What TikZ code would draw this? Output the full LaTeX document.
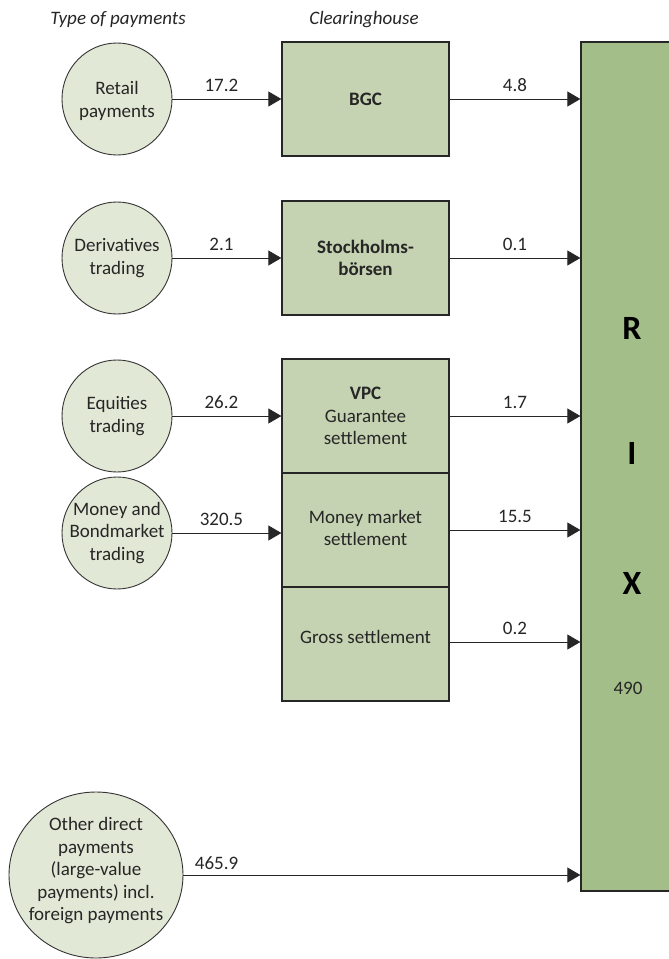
\documentclass[tikz,border=0pt]{standalone}
\usepackage{fontspec}
\setmainfont{Carlito}
\usetikzlibrary{shapes.geometric,arrows.meta}
\definecolor{circfill}{RGB}{226,232,214}
\definecolor{boxfill}{RGB}{197,211,178}
\definecolor{rixfill}{RGB}{163,190,136}
\begin{document}
\begin{tikzpicture}[x=1pt,y=-1pt,
  every node/.style={font=\fontsize{19}{22.5}\selectfont, inner sep=0pt, align=center, text=black!85},
  pay/.style={ellipse, draw=black!80, line width=0.9pt, fill=circfill, minimum width=110pt, minimum height=112pt},
  house/.style={rectangle, draw=black!85, line width=1.3pt, fill=boxfill, minimum width=167pt, minimum height=114pt},
  rixbox/.style={rectangle, draw=black!85, line width=1.3pt, fill=rixfill, minimum width=103pt, minimum height=849pt},
  rixletter/.style={font=\fontsize{34}{36}\selectfont\bfseries, text=black},
  flow/.style={draw=black!85, line width=0.9pt, -{Triangle[length=13pt,width=15pt]}},
  val/.style={above=7pt},
  head/.style={font=\fontsize{19}{22.5}\selectfont\itshape}]
\useasboundingbox (0,0) rectangle (669,959);
\clip (0,0) rectangle (669,959);

% headers
\node[head] (h1) at (118,20) {Type of payments};
\node[head] (h2) at (364,20) {Clearinghouse};

% RIX
\node[rixbox] (rix) at (632.5,466.5) {};
\node[rixletter] (rr) at (632,328) {R};
\node[rixletter] (ri) at (632,453) {I};
\node[rixletter] (rx) at (632,583) {X};
\node (r490) at (628,688) {490};

% payment types
\node[pay] (retail) at (117,99) {};
\node (retailt) at (117,101) {Retail\\payments};
\node[pay] (deriv) at (117,258) {};
\node (derivt) at (117,258) {Derivatives\\trading};
\node[pay] (equ) at (117,416) {};
\node (equt) at (117,416) {Equities\\trading};
\node[pay] (mon) at (117,533) {};
\node (mont) at (117,533) {Money and\\Bondmarket\\trading};
\node[pay, minimum width=174pt, minimum height=166pt] (other) at (96,875) {};
\node (othert) at (96,871) {Other direct\\payments\\(large-value\\payments) incl.\\foreign payments};

% clearinghouses
\node[house] (bgc) at (365.5,99) {\bfseries BGC};
\node[house] (sto) at (365.5,258) {\bfseries Stockholms-\\\bfseries börsen};
\node[house] (vpc) at (365.5,416) {\bfseries VPC\\Guarantee\\settlement};
\node[house] (mms) at (365.5,530) {};
\node (mmst) at (365.5,528) {Money market\\settlement};
\node[house] (gross) at (365.5,644) {};
\node (grosst) at (365.5,637) {Gross settlement};

% flows in
\draw[flow] (retail.east) -- node[val, pos=0.45] (l1) {17.2} (bgc.west);
\draw[flow] (deriv.east) -- node[val, pos=0.45] (l2) {2.1} (sto.west);
\draw[flow] (equ.east) -- node[val, pos=0.45] (l3) {26.2} (vpc.west);
\draw[flow] (mon.east) -- node[val, pos=0.45] (l4) {320.5} (mon.east -| mms.west);

% flows out
\draw[flow] (bgc.east) -- node[val] (o1) {4.8} (bgc.east -| rix.west);
\draw[flow] (sto.east) -- node[val] (o2) {0.1} (sto.east -| rix.west);
\draw[flow] (vpc.east) -- node[val] (o3) {1.7} (vpc.east -| rix.west);
\draw[flow] (mms.east) -- node[val] (o4) {15.5} (mms.east -| rix.west);
\draw[flow] ([yshift=2pt]gross.east) -- node[val] (o5) {0.2} ([yshift=2pt]gross.east -| rix.west);
\draw[flow] (other.east) -- node[pos=0, anchor=south west, xshift=11pt, yshift=5pt] (o6) {465.9} (other.east -| rix.west);
\end{tikzpicture}
\end{document}
